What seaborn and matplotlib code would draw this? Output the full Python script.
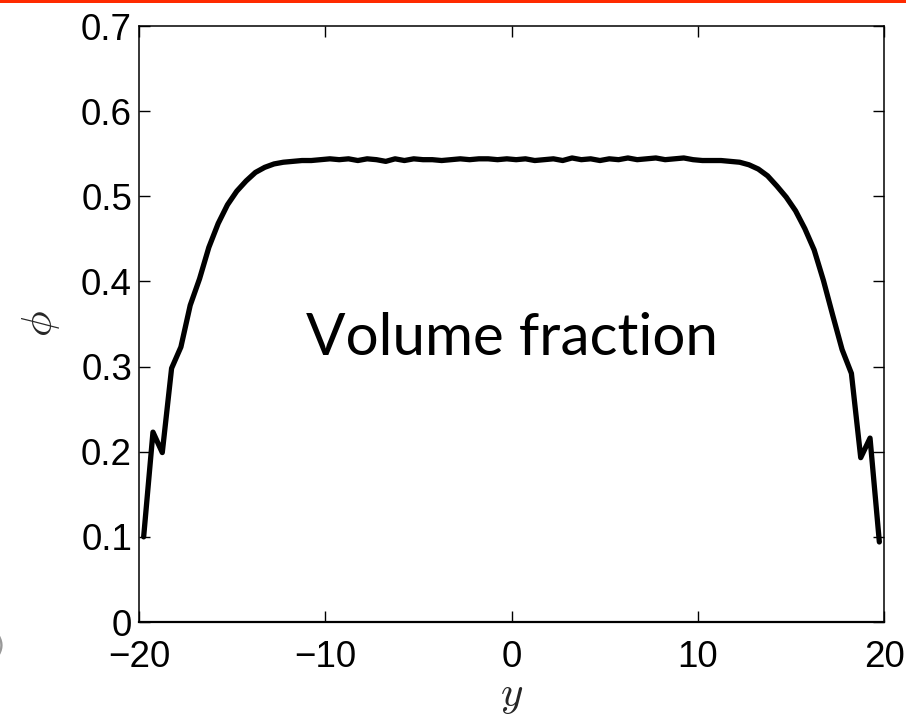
import numpy as np
import pandas as pd
import matplotlib
matplotlib.use("Agg")
import matplotlib.pyplot as plt
import seaborn as sns

# ---- data ----
y_pos = [-19.75 + 0.5 * i for i in range(80)]
phi_left = [0.100, 0.223, 0.199, 0.298, 0.323, 0.372, 0.403, 0.440, 0.468,
            0.490, 0.506, 0.518, 0.528, 0.534, 0.538, 0.540, 0.541, 0.542]
phi_mid = [0.542, 0.543, 0.544, 0.543, 0.544, 0.542, 0.544, 0.543, 0.541, 0.544,
           0.542, 0.544, 0.543, 0.543, 0.542, 0.543, 0.544, 0.543, 0.544, 0.544,
           0.543, 0.544, 0.543, 0.544, 0.542, 0.543, 0.544, 0.542, 0.545, 0.543,
           0.544, 0.542, 0.544, 0.543, 0.545, 0.543, 0.544, 0.545, 0.543, 0.544,
           0.545, 0.543, 0.542, 0.542]
phi_right = [0.542, 0.541, 0.540, 0.537, 0.532, 0.524, 0.512, 0.499, 0.483,
             0.462, 0.437, 0.401, 0.360, 0.320, 0.292, 0.193, 0.216, 0.094]
phi = phi_left + phi_mid + phi_right
x_ticks = [-20, -10, 0, 10, 20]
y_ticks = [0, 0.1, 0.2, 0.3, 0.4, 0.5, 0.6, 0.7]
x_ticklabels = ["\u221220", "\u221210", "0", "10", "20"]
y_ticklabels = ["0", "0.1", "0.2", "0.3", "0.4", "0.5", "0.6", "0.7"]

df = pd.DataFrame({"y": y_pos, "phi": phi})

sns.set_style("white")
plt.rcParams["mathtext.fontset"] = "cm"

fig = plt.figure(figsize=(9.06, 7.19), dpi=100)
ax = fig.add_axes([139 / 906, 1 - 622 / 719, (884 - 139) / 906, (622 - 26) / 719])

sns.lineplot(data=df, x="y", y="phi", ax=ax, color="black", linewidth=3.8)

ax.set_xlim(-20, 20)
ax.set_ylim(0, 0.7)
ax.set_xticks(x_ticks)
ax.set_yticks(y_ticks)
tick_font = dict(family=["Liberation Sans Narrow", "Liberation Sans"], size=26.5)
ax.set_xticklabels(x_ticklabels, fontdict=tick_font)
ax.set_yticklabels(y_ticklabels, fontdict=tick_font)
ax.tick_params(direction="in", length=8, width=1, top=True, right=True,
               bottom=True, left=True, colors="black")
ax.tick_params(axis="x", pad=13)
ax.tick_params(axis="y", pad=5)
for s in ax.spines.values():
    s.set_visible(True)
    s.set_color("black")
    s.set_linewidth(1.1)
ax.spines["bottom"].set_linewidth(1.6)

ax.set_xlabel("$y$", fontsize=31, labelpad=-1)
ax.set_ylabel("$\\phi$", fontsize=31, labelpad=14)

ax.text(0, 0.333, "Volume fraction", fontsize=42, family="Lato",
        ha="center", va="center", color="black")

# red banner at top
fig.patches.append(plt.Rectangle((0, 1 - 3 / 719), 1, 3 / 719,
                                 transform=fig.transFigure, color="#ff2a00",
                                 linewidth=0, zorder=10))
fig.text(0.0, 1 - 645 / 719, ")", fontsize=18, color="#999999",
         ha="center", va="center")

fig.savefig("out.png", dpi=100)
